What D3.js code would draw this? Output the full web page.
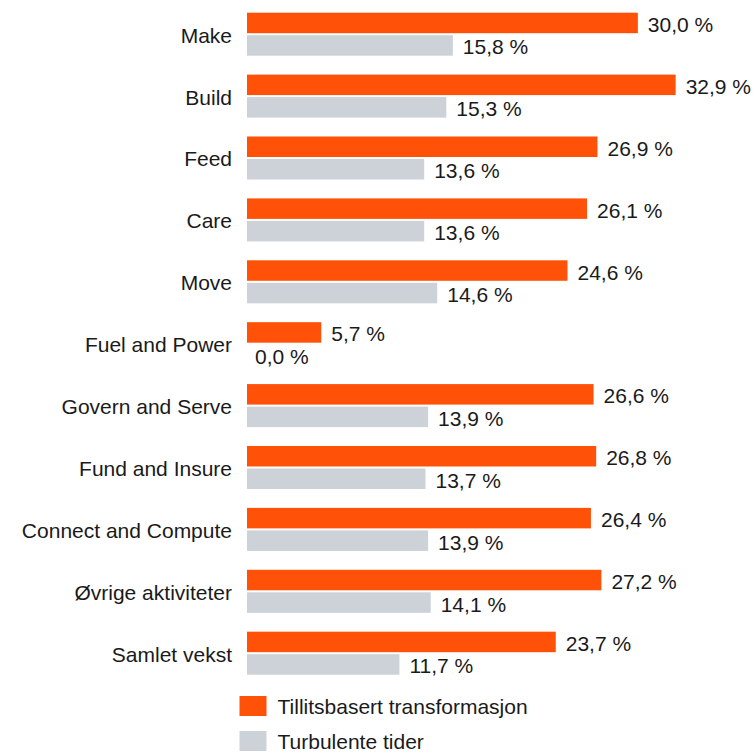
<!DOCTYPE html>
<html>
<head>
<meta charset="utf-8">
<script src="https://cdn.jsdelivr.net/npm/d3@7"></script>
<style>
  body { margin: 0; background: #fff; }
  text { font-family: "Liberation Sans", Arial, sans-serif; fill: #1a1a1a; }
</style>
</head>
<body>
<script>
// DATA
var categories = ["Make", "Build", "Feed", "Care", "Move", "Fuel and Power",
  "Govern and Serve", "Fund and Insure", "Connect and Compute",
  "Øvrige aktiviteter", "Samlet vekst"];
var seriesNames = ["Tillitsbasert transformasjon", "Turbulente tider"];
var transformasjon = [30.0, 32.9, 26.9, 26.1, 24.6, 5.7, 26.6, 26.8, 26.4, 27.2, 23.7];
var turbulente = [15.8, 15.3, 13.6, 13.6, 14.6, 0.0, 13.9, 13.7, 13.9, 14.1, 11.7];
var colours = ["#FF5208", "#CDD1D8"];

var width = 754, height = 752;
var fontSize = 21;
var rows = categories.map(function(c, i){
  return {cat: c, values: [transformasjon[i], turbulente[i]]};
});

var loc = d3.formatLocale({decimal: ",", thousands: " ", grouping: [3], currency: ["", ""]});
var fmt = loc.format(".1f");

var svg = d3.select("body").append("svg")
  .attr("width", width).attr("height", height);

var x = d3.scaleLinear().domain([0, 35]).range([247, 703]);
var y = d3.scaleBand().domain(categories).range([12.7, 674.7])
  .paddingInner(0.305).paddingOuter(0);
var ySub = d3.scaleBand().domain([0, 1]).range([0, y.bandwidth()]).paddingInner(0.09);

var groups = svg.append("g").selectAll("g.cat").data(rows).enter().append("g")
  .attr("class", "cat")
  .attr("transform", function(d){ return "translate(0," + y(d.cat) + ")"; });

groups.append("text")
  .attr("x", x(0) - 15)
  .attr("y", y.bandwidth() / 2 + 8.5)
  .attr("text-anchor", "end")
  .attr("font-size", fontSize)
  .text(function(d){ return d.cat; });

var bars = groups.selectAll("g.bar").data(function(d){ return d.values; }).enter().append("g")
  .attr("class", "bar");

bars.append("rect")
  .attr("x", x(0))
  .attr("y", function(d, i){ return ySub(i); })
  .attr("width", function(d){ return x(d) - x(0); })
  .attr("height", ySub.bandwidth())
  .attr("fill", function(d, i){ return colours[i]; });

bars.append("text")
  .attr("x", function(d){ return x(d) + (d > 0 ? 10 : 8); })
  .attr("y", function(d, i){ return ySub(i) + ySub.bandwidth() / 2 + 9; })
  .attr("font-size", fontSize)
  .text(function(d){ return fmt(d) + " %"; });

// LEGEND
var legend = svg.append("g").selectAll("g.leg").data(seriesNames).enter().append("g")
  .attr("class", "leg")
  .attr("transform", function(d, i){ return "translate(239.5," + (696 + i * 35) + ")"; });

legend.append("rect")
  .attr("width", 27).attr("height", 20)
  .attr("fill", function(d, i){ return colours[i]; });

legend.append("text")
  .attr("x", 38).attr("y", 18)
  .attr("font-size", fontSize)
  .text(function(d){ return d; });
</script>
</body>
</html>
